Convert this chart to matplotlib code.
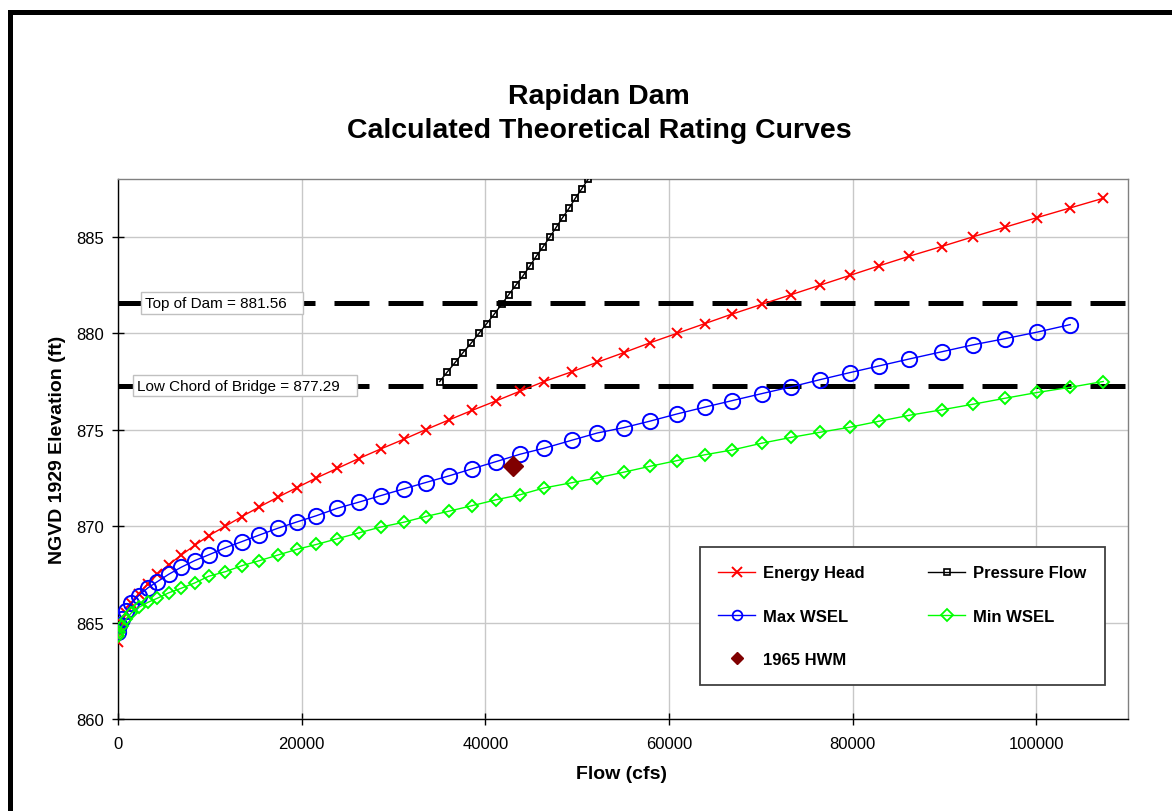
import matplotlib
matplotlib.use('Agg')
import matplotlib.pyplot as plt
from matplotlib.lines import Line2D
from matplotlib.patches import Rectangle
from matplotlib.ticker import FuncFormatter, MultipleLocator

plt.rcParams['font.family'] = ['Liberation Sans', 'DejaVu Sans']

# flows shared by the three computed curves (cfs)
flow_cfs = [0, 150, 440, 910, 1450, 2250, 3260, 4280, 5510, 6890,
            8340, 9870, 11700, 13500, 15400, 17400, 19500, 21600, 23900, 26200,
            28600, 31100, 33500, 36000, 38550, 41200, 43800, 46400, 49400, 52200,
            55100, 57900, 60900, 63900, 66900, 70100, 73300, 76500, 79700, 82900,
            86200, 89700, 93100, 96600, 100100, 103700, 107300]

energy_head = [864.0, 864.5, 865.0, 865.5, 866.0, 866.5, 867.0, 867.5, 868.0, 868.5,
               869.0, 869.5, 870.0, 870.5, 871.0, 871.5, 872.0, 872.5, 873.0, 873.5,
               874.0, 874.5, 875.0, 875.5, 876.0, 876.5, 877.0, 877.5, 878.0, 878.5,
               879.0, 879.5, 880.0, 880.5, 881.0, 881.5, 882.0, 882.5, 883.0, 883.5,
               884.0, 884.5, 885.0, 885.5, 886.0, 886.5, 887.0]

max_wsel = [864.5, 864.85, 865.2, 865.6, 866.0, 866.4, 866.8, 867.12, 867.5, 867.87,
            868.21, 868.51, 868.88, 869.2, 869.54, 869.89, 870.22, 870.54, 870.93, 871.24,
            871.58, 871.93, 872.26, 872.6, 872.97, 873.35, 873.73, 874.04, 874.45, 874.83,
            875.11, 875.44, 875.82, 876.17, 876.51, 876.87, 877.22, 877.6, 877.96, 878.31,
            878.67, 879.04, 879.4, 879.72, 880.06, 880.45]

min_wsel = [864.3, 864.5, 864.84, 865.19, 865.5, 865.79, 866.05, 866.26, 866.54, 866.78,
            867.05, 867.4, 867.64, 867.95, 868.21, 868.5, 868.8, 869.05, 869.35, 869.65,
            869.95, 870.2, 870.5, 870.77, 871.06, 871.37, 871.63, 871.98, 872.25, 872.5,
            872.8, 873.1, 873.4, 873.7, 873.95, 874.3, 874.6, 874.87, 875.13, 875.44,
            875.75, 876.03, 876.32, 876.63, 876.93, 877.2, 877.5]

pressure_flow = [35040, 35870, 36740, 37580, 38480, 39320, 40150, 40990, 41780, 42550,
                 43340, 44140, 44870, 45560, 46320, 47040, 47730, 48420, 49150, 49800,
                 50520, 51210]
pressure_elev = [877.5, 878.0, 878.5, 879.0, 879.5, 880.0, 880.5, 881.0, 881.5, 882.0,
                 882.5, 883.0, 883.5, 884.0, 884.5, 885.0, 885.5, 886.0, 886.5, 887.0,
                 887.5, 888.0]

hwm_flow = [43000]
hwm_elev = [873.1]

top_of_dam = 881.56
low_chord = 877.29

W, H = 1172, 812
fig = plt.figure(figsize=(W / 100, H / 100), dpi=100)
ax = fig.add_axes([118 / W, 1 - 720 / H, (1128 - 118) / W, (720 - 180) / H])

# reference levels
ax.axhline(top_of_dam, color='black', lw=3.6, dashes=(7, 3.8), zorder=1)
ax.axhline(low_chord, color='black', lw=3.6, dashes=(7, 3.8), zorder=1)

ax.plot(flow_cfs, energy_head, color='#ff0000', lw=1, marker='x',
        ms=7, mew=1.4, zorder=3)
ax.plot(pressure_flow, pressure_elev, color='black', lw=1, marker='s',
        ms=5, mew=1.3, mfc='none', zorder=3)
ax.plot(flow_cfs[:len(max_wsel)], max_wsel, color='#0000ff', lw=1, marker='o',
        ms=11, mew=1.4, mfc='none', zorder=3)
ax.plot(flow_cfs, min_wsel, color='#00ff00', lw=1, marker='D',
        ms=6.5, mew=1.4, mfc='none', zorder=3)
ax.plot(hwm_flow, hwm_elev, ls='none', marker='D', ms=10,
        color='#800000', zorder=4)

ax.text(2900, top_of_dam, 'Top of Dam = 881.56   ', fontsize=11, va='center', ha='left',
        bbox=dict(boxstyle='square,pad=0.25', fc='white', ec='#c0c0c0', lw=1), zorder=5)
ax.text(2100, low_chord, 'Low Chord of Bridge = 877.29   ', fontsize=11, va='center', ha='left',
        bbox=dict(boxstyle='square,pad=0.25', fc='white', ec='#c0c0c0', lw=1), zorder=5)

ax.set_xlim(0, 110000)
ax.set_ylim(860, 888)
ax.xaxis.set_major_locator(MultipleLocator(20000))
ax.yaxis.set_major_locator(MultipleLocator(5))
ax.xaxis.set_major_formatter(FuncFormatter(lambda v, p: '%d' % v))
ax.yaxis.set_major_formatter(FuncFormatter(lambda v, p: '%d' % v))
ax.grid(True, color='#c8c8c8', lw=1)
ax.set_axisbelow(True)
for s in ax.spines.values():
    s.set_color('#808080')
    s.set_linewidth(1)
ax.spines['left'].set_color('black')
ax.spines['bottom'].set_color('black')
ax.tick_params(direction='inout', length=8, width=1, labelsize=12, color='black')
ax.tick_params(axis='x', pad=8)
ax.tick_params(axis='y', pad=6)

# legend keys are drawn smaller than the plotted markers
h_eh = Line2D([], [], color='#ff0000', lw=1, marker='x', ms=7, mew=1.4)
h_pf = Line2D([], [], color='black', lw=1, marker='s', ms=5, mew=1.2, mfc='none')
h_mx = Line2D([], [], color='#0000ff', lw=1, marker='o', ms=7, mew=1.3, mfc='none')
h_mn = Line2D([], [], color='#00ff00', lw=1, marker='D', ms=6, mew=1.3, mfc='none')
h_hw = Line2D([], [], ls='none', marker='D', ms=6.5, color='#800000')
leg = ax.legend([h_eh, h_mx, h_hw, h_pf, h_mn],
                ['Energy Head', 'Max WSEL', '1965 HWM', 'Pressure Flow', 'Min WSEL'],
                ncol=2, loc='upper left',
                bbox_to_anchor=(700 / W, 1 - 548 / H), bbox_transform=fig.transFigure,
                prop={'weight': 'bold', 'size': 12}, fancybox=False, framealpha=1,
                edgecolor='#404040', borderpad=1.1, labelspacing=1.7,
                handlelength=2.2, handletextpad=0.5, columnspacing=3.8, borderaxespad=0)
leg.get_frame().set_linewidth(1.3)

fig.text(599 / W, 1 - 97 / H, 'Rapidan Dam', ha='center', va='center',
         fontsize=20.5, fontweight='bold')
fig.text(599 / W, 1 - 131 / H, 'Calculated Theoretical Rating Curves', ha='center',
         va='center', fontsize=20.5, fontweight='bold')
fig.text(622 / W, 1 - 775 / H, 'Flow (cfs)', ha='center', va='center',
         fontsize=14, fontweight='bold')
fig.text(57 / W, 1 - 450 / H, 'NGVD 1929 Elevation (ft)', ha='center', va='center',
         rotation=90, fontsize=14, fontweight='bold')

# outer frame of the chart sheet (only top and left visible)
fig.add_artist(Rectangle((10 / W, -0.1), 1.2, 1.1 - 13 / H, transform=fig.transFigure,
                         fill=False, lw=3.6, ec='black'))

fig.savefig('out.png', dpi=100)
